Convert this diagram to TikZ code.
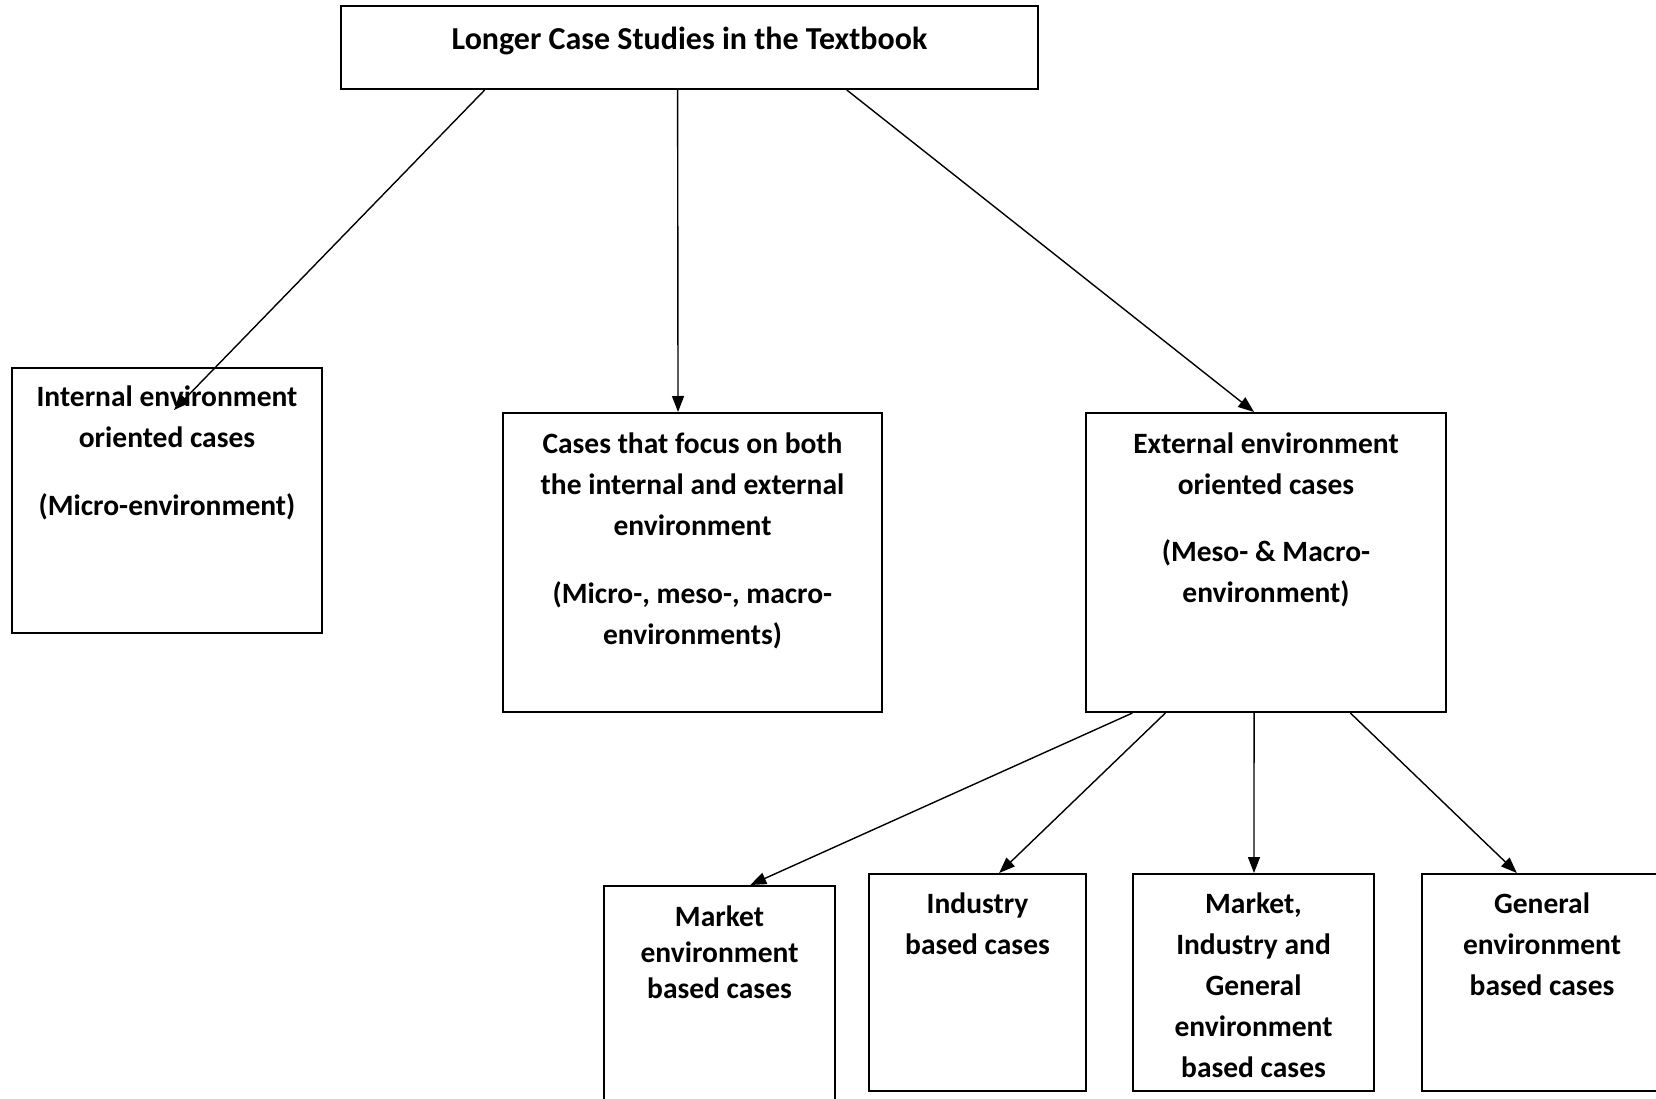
\documentclass[tikz,border=0pt]{standalone}
\usepackage{fontspec}
\setmainfont{Carlito}
\usetikzlibrary{arrows.meta,calc}
\begin{document}
\begin{tikzpicture}[x=1pt,y=-1pt,
  box/.style={draw=black,line width=2pt,rectangle,inner sep=0pt},
  txt/.style={align=center,inner sep=0pt,anchor=north,font=\fontsize{29.5}{41}\selectfont\bfseries},
  arr/.style={line width=1.4pt,-{Triangle[length=16pt,width=12pt]}},
  ln/.style={line width=1.4pt}]
\useasboundingbox (0,0) rectangle (1656,1099);
\clip (0,0) rectangle (1656,1099);
\fill[white] (0,0) rectangle (1656,1099);
% boxes
\node[box,minimum width=697pt,minimum height=83pt] (top) at (689.5,47.5) {};
\node[box,minimum width=310pt,minimum height=265pt] (int) at (167,500.5) {};
\node[box,minimum width=379pt,minimum height=299pt] (mid) at (692.5,562.5) {};
\node[box,minimum width=360pt,minimum height=299pt] (ext) at (1266,562.5) {};
\node[box,minimum width=231pt,minimum height=230pt] (mkt) at (719.5,1001) {};
\node[box,minimum width=217pt,minimum height=217pt] (ind) at (977.5,982.5) {};
\node[box,minimum width=241pt,minimum height=217pt] (mig) at (1253.5,982.5) {};
\node[box,minimum width=240pt,minimum height=217pt] (gen) at (1542,982.5) {};
% texts
\node[txt,font=\fontsize{32}{41}\selectfont\bfseries] (ttop) at (689.5,27) {Longer Case Studies in the Textbook};
\node[txt] (tint) at (167,386) {Internal environment\\oriented cases\\[27pt](Micro-environment)};
\node[txt] (tmid) at (692.5,433) {Cases that focus on both\\the internal and external\\environment\\[27pt](Micro-, meso-, macro-\\environments)};
\node[txt] (text) at (1266,433) {External environment\\oriented cases\\[26pt](Meso- \& Macro-\\environment)};
\node[txt,font=\fontsize{29.5}{36}\selectfont\bfseries] (tmkt) at (719.5,906) {Market\\environment\\based cases};
\node[txt] (tind) at (977.5,893) {Industry\\based cases};
\node[txt] (tmig) at (1253.5,893) {Market,\\Industry and\\General\\environment\\based cases};
\node[txt] (tgen) at (1542,893) {General\\environment\\based cases};
% tip of the arrow that ends inside the internal box
\coordinate (intTip) at (174,410);
% connectors
\draw[arr] ($(top.south west)!0.207!(top.south east)$) -- (intTip);
\draw[arr] ($(top.south west)!0.483!(top.south east)$) -- ($(mid.north west)!0.462!(mid.north east)$);
\draw[arr] ($(top.south west)!0.725!(top.south east)$) -- ($(ext.north west)!0.467!(ext.north east)$);
\draw[arr] ($(ext.south west)!0.131!(ext.south east)$) -- ($(mkt.north west)!0.632!(mkt.north east)$);
\draw[arr] ($(ext.south west)!0.222!(ext.south east)$) -- ($(ind.north west)!0.599!(ind.north east)$);
\draw[arr] ($(ext.south west)!0.467!(ext.south east)$) -- ($(mig.north west)!0.502!(mig.north east)$);
\draw[arr] ($(ext.south west)!0.733!(ext.south east)$) -- ($(gen.north west)!0.396!(gen.north east)$);
\end{tikzpicture}
\end{document}
